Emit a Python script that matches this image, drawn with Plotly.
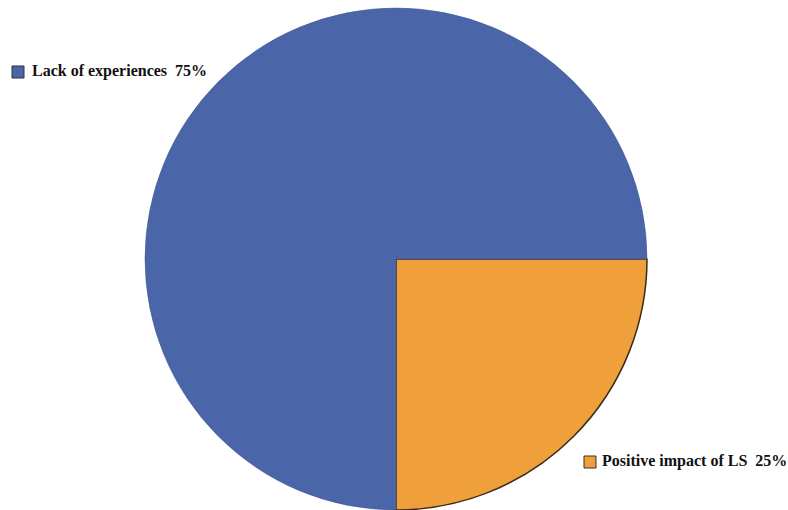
import plotly.graph_objects as go

labels = ["Positive impact of LS", "Lack of experiences"]
values = [25, 75]
colors = ["#F0A03A", "#4A66A8"]

W, H = 788, 510
fig = go.Figure(go.Pie(
    labels=labels, values=values, sort=False, direction="clockwise", rotation=90,
    marker=dict(colors=colors, line=dict(color=["#3a2a1a", "#3d5590"], width=[1.5, 0.5])),
    textinfo="none", hoverinfo="label+percent", showlegend=False,
    domain=dict(x=[145 / W, 647 / W], y=[0, 1]),
))

font = dict(family="Liberation Serif", size=16, color="#111111")
# label boxes (legend-like squares)
fig.add_shape(type="rect", xref="paper", yref="paper",
              x0=12 / W, x1=24 / W, y0=1 - 70 / (H - 8), y1=1 - 58 / (H - 8),
              fillcolor=colors[1], line=dict(color="#333333", width=1))
fig.add_annotation(xref="paper", yref="paper", x=30 / W, y=1 - 63 / (H - 8),
                   text=f"<b>{labels[1]}  {values[1]}%</b>", showarrow=False,
                   xanchor="left", yanchor="middle", font=font)
fig.add_shape(type="rect", xref="paper", yref="paper",
              x0=584 / W, x1=596 / W, y0=1 - 460 / (H - 8), y1=1 - 448 / (H - 8),
              fillcolor=colors[0], line=dict(color="#333333", width=1))
fig.add_annotation(xref="paper", yref="paper", x=600 / W, y=1 - 453 / (H - 8),
                   text=f"<b>{labels[0]}  {values[0]}%</b>", showarrow=False,
                   xanchor="left", yanchor="middle", font=font)

fig.update_layout(width=W, height=H, margin=dict(l=0, r=0, t=8, b=0),
                  paper_bgcolor="white", plot_bgcolor="white")
fig.write_html("out.html")
